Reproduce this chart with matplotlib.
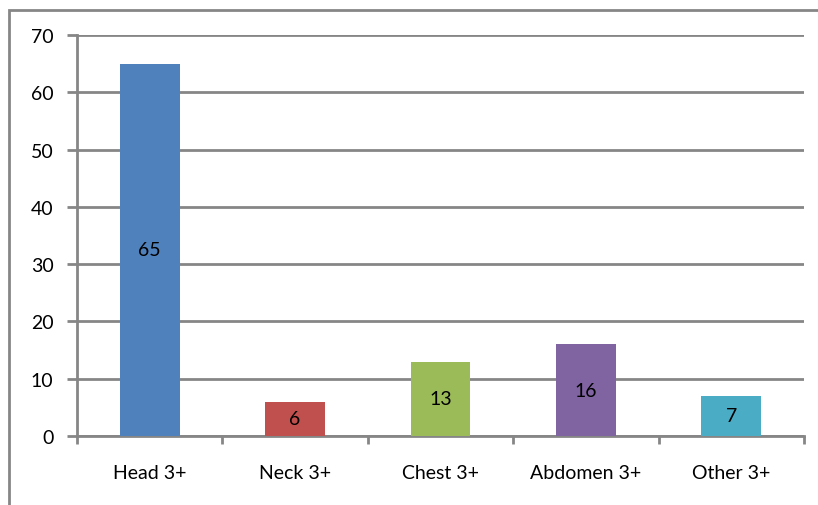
import matplotlib.pyplot as plt
from matplotlib.patches import Rectangle
import numpy as np

categories = ['Head 3+', 'Neck 3+', 'Chest 3+', 'Abdomen 3+', 'Other 3+']
values = [65, 6, 13, 16, 7]
colors = ['#4F81BD', '#C0504D', '#9BBB59', '#8064A2', '#4BACC6']
yticks = [0, 10, 20, 30, 40, 50, 60, 70]

plt.rcParams['font.family'] = ['Lato', 'DejaVu Sans']
grey = '#868686'

fig = plt.figure(figsize=(8.18, 5.06), dpi=100)
ax = fig.add_axes([77 / 818, 1 - 437 / 506, (804 - 77) / 818, (437 - 36) / 506])

# chart border (runs off the right and bottom edges)
fig.patches.append(Rectangle((9 / 818, -0.1), 1.2, 1 - 11 / 506 + 0.1,
                             transform=fig.transFigure, fill=False,
                             edgecolor=grey, linewidth=2, zorder=0))

x = np.arange(len(categories))
ax.bar(x, values, width=0.41, color=colors, zorder=3)
for xi, v in zip(x, values):
    ax.text(xi, v / 2, str(v), ha='center', va='center', fontsize=14, color='black', zorder=4)

ax.set_xlim(-0.5, len(categories) - 0.5)
ax.set_ylim(0, 70)
ax.set_yticks(yticks)
ax.yaxis.grid(True, color=grey, linewidth=2, zorder=1)
ax.set_axisbelow(True)

ax.set_xticks(x)
ax.set_xticklabels(categories, fontsize=14)
ax.set_xticks(np.arange(len(categories) + 1) - 0.5, minor=True)
ax.tick_params(axis='x', which='major', length=0, pad=20)
ax.tick_params(axis='x', which='minor', length=6, width=2, color=grey, direction='out')
ax.tick_params(axis='y', length=7, width=2, color=grey, direction='out', labelsize=14, pad=10)

for side in ['top', 'right']:
    ax.spines[side].set_visible(False)
for side in ['left', 'bottom']:
    ax.spines[side].set_color(grey)
    ax.spines[side].set_linewidth(2)

fig.savefig('out.png', dpi=100)
